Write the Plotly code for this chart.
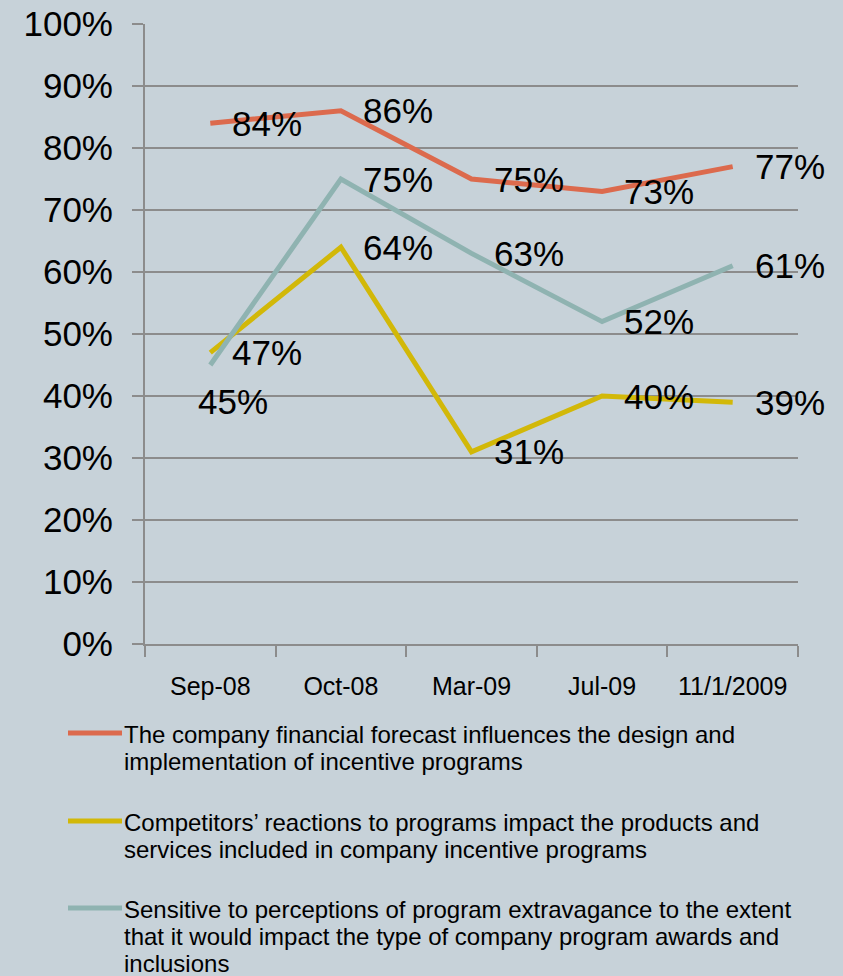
import plotly.graph_objects as go

# Survey periods and share of respondents agreeing with each statement
periods = ["Sep-08", "Oct-08", "Mar-09", "Jul-09", "11/1/2009"]

forecast_share = [0.84, 0.86, 0.75, 0.73, 0.77]
competitor_share = [0.47, 0.64, 0.31, 0.40, 0.39]
extravagance_share = [0.45, 0.75, 0.63, 0.52, 0.61]

# Legend wording, one list entry per printed line
legend_lines = [
    ["The company financial forecast influences the design and",
     "implementation of incentive programs"],
    ["Competitors\u2019 reactions to programs impact the products and",
     "services included in company incentive programs"],
    ["Sensitive to perceptions of program extravagance to the extent",
     "that it would impact the type of company program awards and",
     "inclusions"],
]

series_values = [forecast_share, competitor_share, extravagance_share]
series_colors = ["#DC6A4D", "#D2B808", "#8FB3B1"]

BG = "#C7D2D9"
GRID = "#8C8C8C"
FONT = "Liberation Sans, Arial, sans-serif"

W, H = 843, 976
L, R, T, B = 145, 45, 24, 332
PW, PH = W - L - R, H - T - B


def px_x(px):
    return (px - L) / PW


def px_y(py):
    return (H - B - py) / PH


fig = go.Figure()

for i, (lines, vals, col) in enumerate(zip(legend_lines, series_values, series_colors)):
    fig.add_trace(go.Scatter(
        x=periods, y=vals, name=" ".join(lines), mode="lines",
        line=dict(color=col, width=5),
        showlegend=False,
    ))

annotations = []
shapes = []

# Value labels next to each point
for s, vals in enumerate(series_values):
    for j, v in enumerate(vals):
        xshift, yshift = 20, 0
        if s == 2 and j == 0:
            xshift, yshift = -14, -36
        annotations.append(dict(
            x=periods[j], y=v, text=f"{round(v * 100)}%",
            xref="x", yref="y", showarrow=False,
            xanchor="left", yanchor="middle",
            xshift=xshift, yshift=yshift,
            font=dict(family=FONT, size=35, color="black"),
        ))

# Legend below the plot: a coloured stroke and its wrapped description
legend_top = [734, 822, 909]
line_gap = 27
for lines, col, y0 in zip(legend_lines, series_colors, legend_top):
    shapes.append(dict(
        type="line", xref="paper", yref="paper",
        x0=px_x(68), x1=px_x(122), y0=px_y(y0 - 1), y1=px_y(y0 - 1),
        line=dict(color=col, width=5),
    ))
    for k, txt in enumerate(lines):
        annotations.append(dict(
            x=px_x(122), y=px_y(y0 + k * line_gap), text=txt,
            xref="paper", yref="paper", showarrow=False,
            xanchor="left", yanchor="middle", align="left",
            font=dict(family=FONT, size=24, color="black"),
        ))

fig.update_layout(
    width=W, height=H,
    paper_bgcolor=BG, plot_bgcolor=BG,
    margin=dict(l=L, r=R, t=T, b=B),
    font=dict(family=FONT, color="black"),
    annotations=annotations,
    shapes=shapes,
    showlegend=False,
    xaxis=dict(
        type="category", range=[-0.5, 4.5],
        showgrid=False, zeroline=False,
        showline=True, linecolor=GRID, linewidth=2,
        ticks="outside", tickson="boundaries", ticklen=11,
        tickcolor=GRID, tickwidth=2,
        tickfont=dict(family=FONT, size=25, color="black"),
        ticklabelstandoff=19,
        automargin=False,
    ),
    yaxis=dict(
        range=[0, 1], dtick=0.1, tickformat=".0%",
        showgrid=True, gridcolor=GRID, gridwidth=2,
        zeroline=False,
        showline=True, linecolor=GRID, linewidth=2,
        ticks="outside", ticklen=11, tickcolor=GRID, tickwidth=2,
        tickfont=dict(family=FONT, size=35, color="black"),
        ticklabelstandoff=12,
        automargin=False,
    ),
)

fig.write_html("out.html")
